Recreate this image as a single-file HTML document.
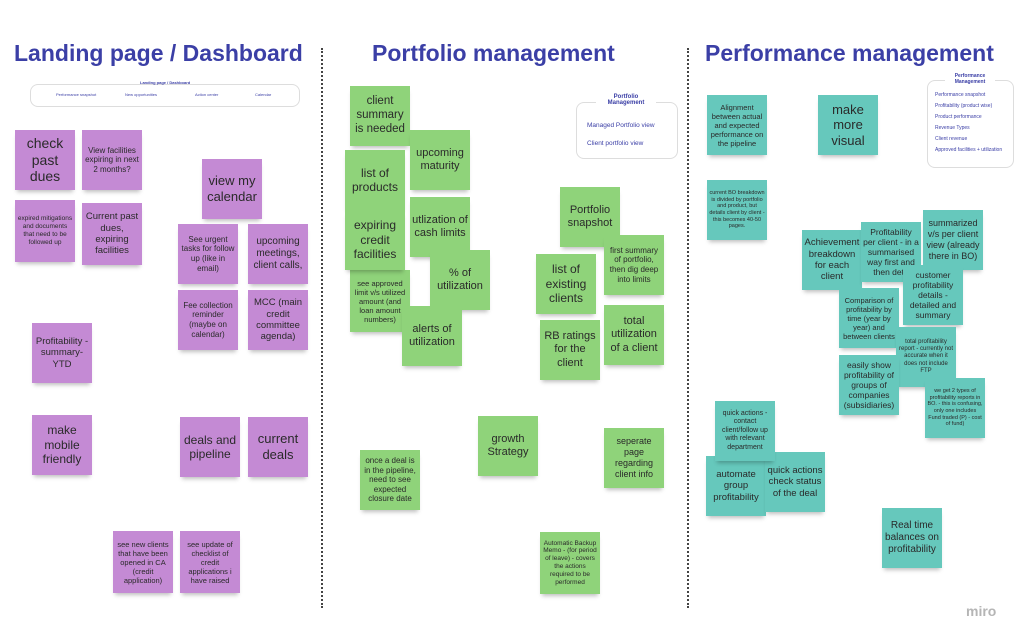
<!DOCTYPE html>
<html><head><meta charset="utf-8"><style>
body{margin:0;width:1024px;height:641px;background:#fff;position:relative;overflow:hidden;font-family:"Liberation Sans",sans-serif}
.h{position:absolute;top:40px;font-weight:bold;color:#3b3fa6;font-size:23px;white-space:nowrap}
.d{position:absolute;top:48px;height:560px;border-left:2px dotted #444}
.n{position:absolute;width:60px;height:60px;display:flex;align-items:center;justify-content:center;text-align:center;color:#2a2a2a;line-height:1.2;box-shadow:0 4px 4px -2px rgba(0,0,0,.25);box-sizing:border-box;padding:2px;overflow:hidden}
.p{background:#c48ad4}.g{background:#8fd37a}.t{background:#66c8bc}
.box{position:absolute;border:1px solid #ddd;border-radius:8px;background:#fff;font-size:6px;color:#3b3fa6}
</style></head><body>
<div class="h" style="left:14px">Landing page / Dashboard</div>
<div class="h" style="left:372px">Portfolio management</div>
<div class="h" style="left:705px">Performance management</div>
<div class="d" style="left:321px"></div>
<div class="d" style="left:687px"></div>

<div class="box" style="left:30px;top:84px;width:268px;height:21px"></div>
<div style="position:absolute;left:140px;top:80px;font-size:4px;color:#3b3fa6;font-weight:bold">Landing page / Dashboard</div>
<div style="position:absolute;left:56px;top:92px;font-size:4px;color:#3b3fa6">Performance snapshot</div>
<div style="position:absolute;left:125px;top:92px;font-size:4px;color:#3b3fa6">New opportunities</div>
<div style="position:absolute;left:195px;top:92px;font-size:4px;color:#3b3fa6">Action center</div>
<div style="position:absolute;left:255px;top:92px;font-size:4px;color:#3b3fa6">Calendar</div>

<div class="p n" style="left:15px;top:130px;font-size:14px">check past dues</div>
<div class="p n" style="left:82px;top:130px;font-size:8px">View facilities expiring in next 2 months?</div>
<div class="p n" style="left:15px;top:200px;height:62px;font-size:6.5px">expired mitigations and documents that need to be followed up</div>
<div class="p n" style="left:82px;top:203px;height:62px;font-size:9.5px">Current past dues, expiring facilities</div>
<div class="p n" style="left:202px;top:159px;font-size:13px">view my calendar</div>
<div class="p n" style="left:178px;top:224px;font-size:8px">See urgent tasks for follow up (like in email)</div>
<div class="p n" style="left:248px;top:224px;font-size:10px">upcoming meetings, client calls,</div>
<div class="p n" style="left:178px;top:290px;font-size:8px">Fee collection reminder (maybe on calendar)</div>
<div class="p n" style="left:248px;top:290px;font-size:9.5px">MCC (main credit committee agenda)</div>
<div class="p n" style="left:32px;top:323px;font-size:9.5px">Profitability - summary-YTD</div>
<div class="p n" style="left:32px;top:415px;font-size:12px">make mobile friendly</div>
<div class="p n" style="left:180px;top:417px;font-size:12px">deals and pipeline</div>
<div class="p n" style="left:248px;top:417px;font-size:13px">current deals</div>
<div class="p n" style="left:113px;top:531px;height:62px;font-size:7.5px">see new clients that have been opened in CA (credit application)</div>
<div class="p n" style="left:180px;top:531px;height:62px;font-size:7.5px">see update of checklist of credit applications i have raised</div>

<div class="box" style="left:576px;top:102px;width:100px;height:55px"></div>
<div style="position:absolute;left:596px;top:94px;width:60px;text-align:center;font-size:6px;font-weight:bold;color:#3b3fa6;background:#fff">Portfolio Management</div>
<div style="position:absolute;left:587px;top:122px;font-size:6.5px;color:#3b3fa6">Managed Portfolio view</div>
<div style="position:absolute;left:587px;top:140px;font-size:6.5px;color:#3b3fa6">Client portfolio view</div>

<div class="g n" style="left:350px;top:86px;font-size:11.5px">client summary is needed</div>
<div class="g n" style="left:410px;top:130px;font-size:11px">upcoming maturity</div>
<div class="g n" style="left:345px;top:150px;font-size:12px">list of products</div>
<div class="g n" style="left:350px;top:270px;height:62px;font-size:7.5px">see approved limit v/s utilized amount (and loan amount numbers)</div>
<div class="g n" style="left:345px;top:210px;font-size:12px">expiring credit facilities</div>
<div class="g n" style="left:410px;top:197px;font-size:11px">utlization of cash limits</div>
<div class="g n" style="left:430px;top:250px;font-size:11px">% of utilization</div>
<div class="g n" style="left:402px;top:306px;font-size:11px">alerts of utilization</div>
<div class="g n" style="left:560px;top:187px;font-size:11px">Portfolio snapshot</div>
<div class="g n" style="left:604px;top:235px;font-size:8px">first summary of portfolio, then dig deep into limits</div>
<div class="g n" style="left:536px;top:254px;font-size:12px">list of existing clients</div>
<div class="g n" style="left:540px;top:320px;font-size:11px">RB ratings for the client</div>
<div class="g n" style="left:604px;top:305px;font-size:11px">total utilization of a client</div>
<div class="g n" style="left:478px;top:416px;font-size:11px">growth Strategy</div>
<div class="g n" style="left:360px;top:450px;font-size:8px">once a deal is in the pipeline, need to see expected closure date</div>
<div class="g n" style="left:604px;top:428px;font-size:9px">seperate page regarding client info</div>
<div class="g n" style="left:540px;top:532px;height:62px;font-size:6.5px">Automatic Backup Memo - (for period of leave) - covers the actions required to be performed</div>

<div class="box" style="left:927px;top:80px;width:85px;height:86px"></div>
<div style="position:absolute;left:945px;top:73px;width:50px;text-align:center;font-size:5px;font-weight:bold;color:#3b3fa6;background:#fff">Performance Management</div>
<div style="position:absolute;left:935px;top:90px;font-size:5px;color:#3b3fa6;line-height:11px">Performance snapshot<br>Profitability (product wise)<br>Product performance<br>Revenue Types<br>Client revenue<br>Approved facilities + utilization</div>

<div class="t n" style="left:707px;top:95px;font-size:7.5px">Alignment between actual and expected performance on the pipeline</div>
<div class="t n" style="left:818px;top:95px;font-size:13px">make more visual</div>
<div class="t n" style="left:707px;top:180px;font-size:5.5px">current BO breakdown is divided by portfolio and product, but details client by client - this becomes 40-50 pages.</div>
<div class="t n" style="left:802px;top:230px;font-size:9.5px">Achievement breakdown for each client</div>
<div class="t n" style="left:861px;top:222px;font-size:8.5px">Profitability per client - in a summarised way first and then deta</div>
<div class="t n" style="left:923px;top:210px;font-size:9px">summarized v/s per client view (already there in BO)</div>
<div class="t n" style="left:903px;top:265px;font-size:8.5px">customer profitability details - detailed and summary</div>
<div class="t n" style="left:839px;top:288px;font-size:7.5px">Comparison of profitability by time (year by year) and between clients</div>
<div class="t n" style="left:896px;top:327px;font-size:6px">total profitability report - currently not accurate when it does not include FTP</div>
<div class="t n" style="left:839px;top:355px;font-size:8.5px">easily show profitability of groups of companies (subsidiaries)</div>
<div class="t n" style="left:925px;top:378px;font-size:5.5px">we get 2 types of profitability reports in BO. - this is confusing, only one includes Fund traded (P) - cost of fund)</div>
<div class="t n" style="left:706px;top:456px;font-size:9.5px">automate group profitability</div>
<div class="t n" style="left:765px;top:452px;font-size:9.5px">quick actions check status of the deal</div>
<div class="t n" style="left:715px;top:401px;font-size:7px">quick actions - contact client/follow up with relevant department</div>
<div class="t n" style="left:882px;top:508px;font-size:10px">Real time balances on profitability</div>

<div style="position:absolute;left:966px;top:603px;font-size:14px;font-weight:bold;color:#b5b5b5">miro</div>
</body></html>
